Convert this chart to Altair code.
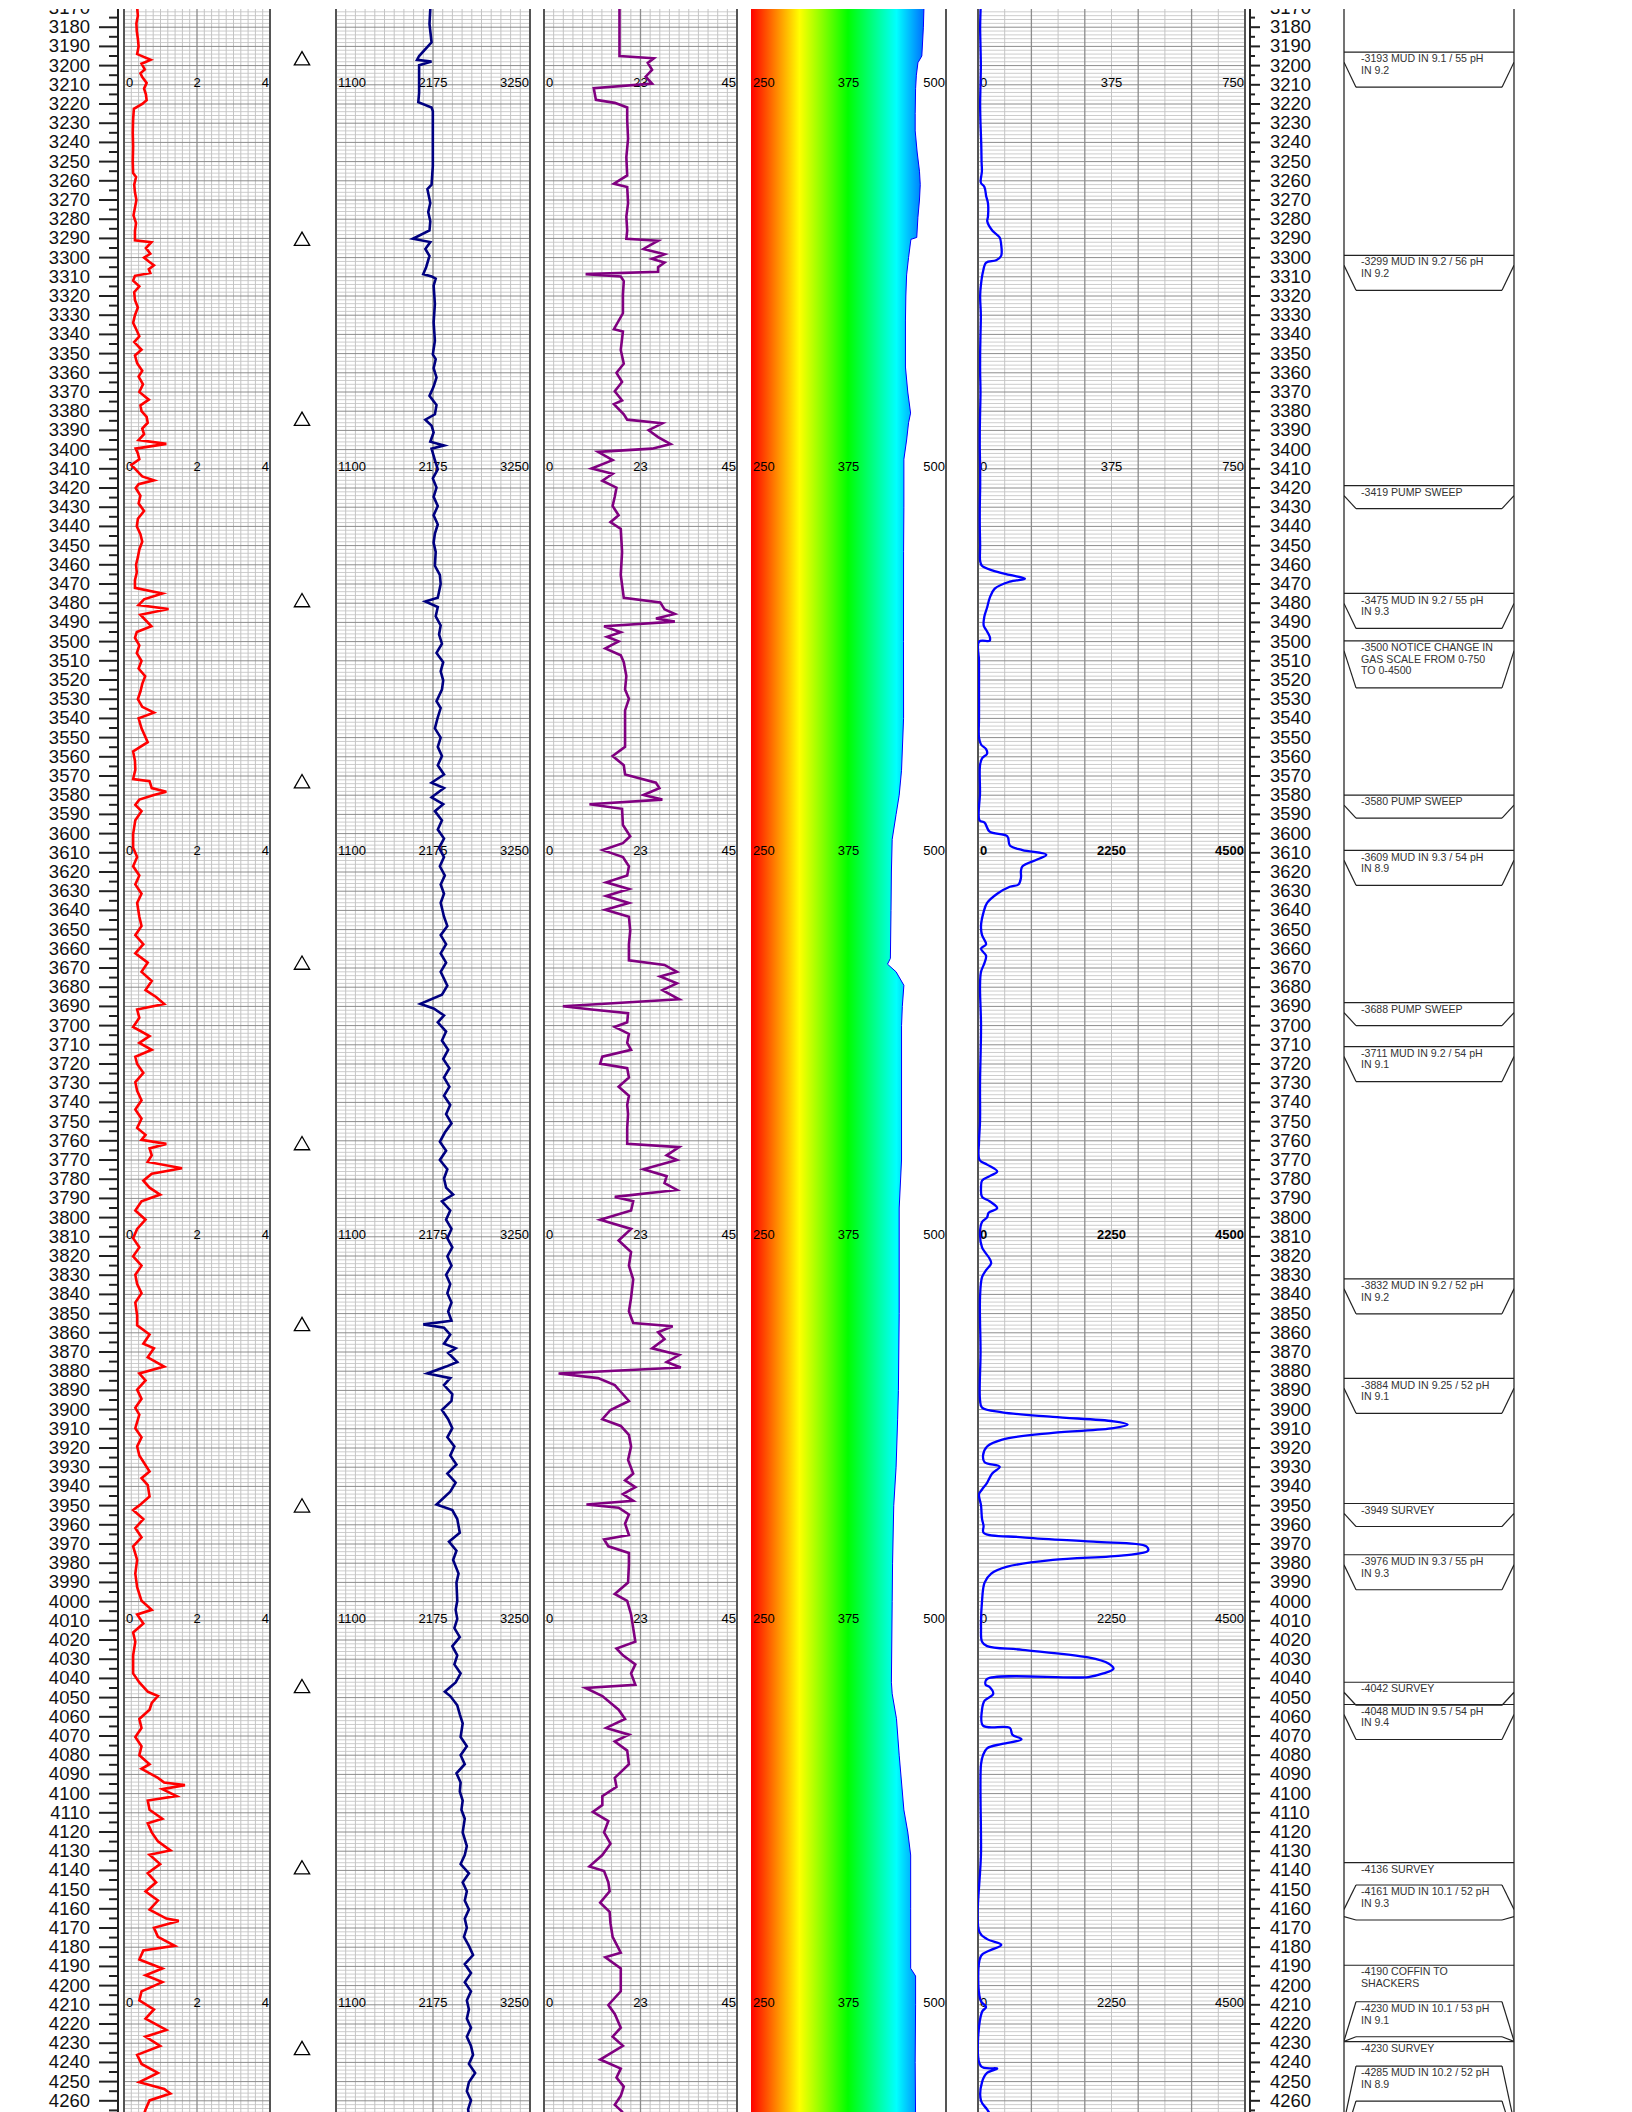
import altair as alt
import pandas as pd

# ------------------------------------------------------------------ data
# track 1 (red, 0-4)
gr_pts = [
(3166.4,0.42),(3170,0.36),(3174,0.38),(3178,0.34),(3182,0.35),(3186,0.38),(3190,0.40),(3194,0.36),(3197,0.73),(3199,0.48),
(3202,0.57),(3204,0.45),(3206,0.50),(3209,0.62),(3212,0.55),(3215,0.60),(3218,0.62),(3220,0.50),(3222.5,0.27),(3228,0.25),
(3235,0.24),(3242,0.25),(3250,0.24),(3256,0.25),(3258,0.33),(3262,0.28),(3266,0.30),(3270,0.34),(3274,0.30),(3278,0.26),
(3282,0.33),(3286,0.30),(3291,0.30),(3292,0.75),(3295,0.60),(3298,0.72),(3300,0.55),(3302,0.68),(3304,0.82),(3306,0.68),
(3308,0.72),(3309.5,0.30),(3312,0.25),(3315,0.42),(3318,0.28),(3322,0.30),(3326,0.38),(3330,0.30),(3334,0.25),(3338,0.35),
(3341,0.42),(3344,0.28),(3348,0.48),(3351,0.30),(3355,0.36),(3359,0.50),(3362,0.40),(3366,0.52),(3370,0.42),(3374,0.68),
(3377,0.45),(3380,0.48),(3383,0.62),(3386,0.65),(3389,0.50),(3392,0.55),(3395,0.40),(3397,1.16),(3399.5,0.32),(3402,0.38),
(3405,0.42),(3408,0.20),(3411,0.35),(3414,0.50),(3416,0.82),(3418,0.40),(3420,0.32),(3424,0.45),(3428,0.40),(3432,0.55),
(3436,0.38),(3440,0.35),(3444,0.45),(3448,0.50),(3452,0.42),(3456,0.38),(3460,0.33),(3464,0.35),(3468,0.30),(3472,0.30),
(3475,1.05),(3478,0.55),(3481,0.40),(3483,1.22),(3486,0.45),(3489,0.60),(3492,0.75),(3495,0.35),(3498,0.30),(3502,0.42),
(3506,0.35),(3510,0.48),(3514,0.40),(3518,0.58),(3522,0.50),(3526,0.45),(3530,0.38),(3534,0.50),(3537,0.82),(3540,0.40),
(3545.2,0.48),(3552.4,0.65),(3557.2,0.25),(3562,0.30),(3566.8,0.31),(3571.6,0.25),(3572.7,0.70),(3576.3,0.76),(3578.2,1.16),(3579.9,0.82),
(3582.3,0.42),(3585,0.31),(3588.3,0.48),(3593,0.31),(3600.2,0.25),(3607.4,0.25),(3612.2,0.36),(3617,0.25),(3621.8,0.42),(3626.5,0.31),
(3631.3,0.48),(3636.1,0.36),(3643.3,0.42),(3648.1,0.48),(3652.9,0.31),(3657.6,0.53),(3662.4,0.31),(3667.2,0.65),(3672,0.48),(3676.8,0.76),
(3681.5,0.59),(3685.1,0.88),(3688.7,1.10),(3691.6,0.36),(3695.9,0.42),(3700.7,0.25),(3705.5,0.70),(3709,0.42),(3712.6,0.76),(3716.2,0.31),
(3720,0.36),(3724.6,0.53),(3729.4,0.31),(3734,0.36),(3738.9,0.48),(3743.7,0.31),(3748.5,0.48),(3753.3,0.36),(3756.9,0.59),(3759.5,0.48),
(3761.6,1.16),(3764,0.70),(3767.6,0.76),(3771,0.65),(3774.3,1.59),(3777.2,0.76),(3780.8,0.53),(3784.4,0.70),(3788,0.99),(3791.5,0.48),
(3796.3,0.31),(3801.1,0.59),(3805.9,0.36),(3810.7,0.25),(3815.5,0.42),(3820.2,0.25),(3825,0.48),(3829.8,0.31),(3834.6,0.36),(3839.4,0.48),
(3844.2,0.31),(3851,0.36),(3856.1,0.36),(3860.9,0.70),(3865.7,0.53),(3868.1,0.82),(3872.8,0.65),(3877.6,1.10),(3881.2,0.42),(3884.8,0.59),
(3889.6,0.36),(3894.4,0.48),(3899.1,0.31),(3902.6,0.42),(3909.7,0.31),(3914.4,0.48),(3919.2,0.36),(3923.9,0.42),(3932.2,0.70),(3935.7,0.48),
(3939.3,0.65),(3945.2,0.70),(3949.9,0.42),(3952.3,0.25),(3957,0.53),(3961.7,0.31),(3966.5,0.48),(3971.2,0.25),(3978.3,0.36),(3985.4,0.31),
(3992.5,0.36),(3999.6,0.48),(4004.3,0.76),(4006.7,0.36),(4011.4,0.53),(4016.1,0.25),(4020.9,0.31),(4028,0.25),(4037.4,0.25),(4042.1,0.42),
(4046.9,0.65),(4049.2,0.93),(4052.8,0.76),(4056.3,0.70),(4061.1,0.42),(4065.8,0.48),(4070.5,0.31),(4075.3,0.48),(4080,0.42),(4084.7,0.70),
(4087.1,0.48),(4091.8,0.93),(4094.2,1.10),(4095.6,1.67),(4097.7,1.05),(4101.3,1.44),(4103.6,0.65),(4108.4,0.70),(4113.1,1.05),(4115.5,0.65),
(4120.2,0.76),(4124.9,0.93),(4129.6,1.27),(4131.9,0.70),(4136.7,0.99),(4141.4,0.65),(4146.2,0.88),(4151,0.59),(4155.7,0.93),(4160.4,0.70),
(4165.1,1.16),(4166.3,1.50),(4169.9,0.82),(4174.6,0.93),(4179.3,1.39),(4181.7,0.53),(4186.4,0.42),(4191.1,1.05),(4194.6,0.59),(4198.2,1.05),
(4203,0.48),(4207.7,0.42),(4212.4,0.82),(4217.2,0.59),(4223.1,1.16),(4226.6,0.59),(4231.4,0.99),(4236.1,0.36),(4240.8,0.48),(4245.5,0.93),
(4250.3,0.42),(4253.8,1.10),(4256.2,1.27),(4259.8,0.70),(4264.5,0.59),(4270,0.50)]

# track 2 (navy, 1100-3250)
dens_pts = [
(3166.4,2150),(3178.3,2136),(3187.9,2159),(3195.0,2021),(3197.0,1998),(3197.9,2159),(3199.8,2021),(3214.2,2021),(3219.0,2012),(3221.8,2159),
(3223.7,2173),(3238.1,2173),(3252.4,2173),(3262.0,2159),(3264.4,2113),(3271.6,2145),(3276.3,2122),(3281.1,2145),(3285.9,2136),(3290.2,1952),
(3291.9,2145),(3295.5,2090),(3299.1,2136),(3305.0,2099),(3308.6,2067),(3309.8,2159),(3311.0,2205),(3314.6,2182),(3324.2,2196),(3333.7,2182),
(3343.3,2196),(3350.5,2173),(3352.9,2205),(3357.6,2182),(3362.4,2214),(3367.2,2182),(3372.0,2136),(3376.8,2214),(3381.6,2196),(3384.4,2090),
(3387.5,2159),(3391.1,2182),(3395.9,2145),(3397.8,2297),(3399.5,2159),(3405.5,2196),(3410.3,2228),(3415.0,2173),(3419.8,2214),(3424.6,2182),
(3429.4,2228),(3434.2,2182),(3439.0,2228),(3443.7,2196),(3448.5,2182),(3453.3,2205),(3460.5,2196),(3465.3,2251),(3470.0,2260),(3477.2,2228),
(3479.1,2090),(3482.0,2228),(3486.8,2205),(3491.6,2260),(3496.3,2242),(3501.1,2274),(3505.9,2214),(3510.7,2288),(3515.5,2260),(3520.2,2288),
(3525.0,2274),(3531.0,2214),(3534.6,2260),(3539.4,2228),(3545.2,2196),(3550.0,2260),(3554.8,2228),(3559.6,2274),(3564.4,2228),(3569.2,2297),
(3573.5,2159),(3576.3,2297),(3581.1,2159),(3584.7,2288),(3588.3,2196),(3593.1,2274),(3597.9,2228),(3602.6,2297),(3607.4,2242),(3612.2,2297),
(3617.0,2251),(3621.8,2306),(3626.5,2260),(3631.3,2297),(3636.1,2260),(3643.3,2297),(3648.1,2334),(3652.9,2260),(3657.6,2320),(3662.4,2260),
(3667.2,2320),(3672.0,2260),(3679.2,2334),(3683.9,2274),(3688.7,2035),(3691.1,2182),(3694.7,2297),(3698.3,2228),(3703.1,2320),(3707.8,2274),
(3712.6,2343),(3717.4,2288),(3722.2,2357),(3727.0,2297),(3731.8,2357),(3736.5,2297),(3741.3,2366),(3746.1,2320),(3750.9,2380),(3755.7,2306),
(3760.5,2251),(3765.2,2320),(3770.0,2251),(3774.8,2334),(3779.6,2297),(3784.4,2320),(3788.0,2398),(3791.5,2274),(3796.3,2366),(3801.1,2320),
(3805.9,2380),(3810.7,2334),(3815.5,2389),(3820.2,2334),(3825.0,2380),(3829.8,2320),(3834.6,2366),(3839.4,2334),(3844.2,2380),(3848.9,2343),
(3853.7,2380),(3855.6,2067),(3857.3,2297),(3860.9,2366),(3865.7,2297),(3868.1,2426),(3870.5,2343),(3875.2,2444),(3877.6,2320),(3881.2,2113),
(3883.6,2366),(3887.2,2297),(3892.0,2389),(3895.5,2380),(3900.2,2274),(3905.0,2343),(3909.7,2389),(3914.4,2334),(3919.2,2412),(3923.9,2366),
(3928.6,2435),(3933.3,2334),(3938.1,2426),(3942.8,2366),(3949.4,2214),(3952.3,2389),(3957.0,2444),(3964.1,2472),(3968.8,2352),(3973.5,2435),
(3978.3,2398),(3985.4,2458),(3990.1,2435),(3999.6,2444),(4004.3,2426),(4009.0,2444),(4013.8,2412),(4018.5,2472),(4023.2,2389),(4028.0,2444),
(4032.7,2412),(4037.4,2481),(4042.1,2426),(4046.9,2306),(4049.2,2366),(4054.0,2444),(4058.7,2472),(4063.4,2504),(4070.5,2481),(4075.3,2550),
(4080.0,2481),(4084.7,2527),(4089.4,2435),(4094.2,2481),(4098.9,2472),(4103.6,2504),(4108.4,2490),(4113.1,2527),(4120.2,2504),(4127.3,2550),
(4132.0,2527),(4136.7,2481),(4141.5,2573),(4146.2,2504),(4150.9,2550),(4155.7,2527),(4160.4,2573),(4165.1,2527),(4169.9,2550),(4174.6,2518),
(4179.3,2573),(4184.1,2619),(4188.8,2527),(4193.5,2596),(4198.2,2527),(4203.0,2596),(4207.7,2550),(4212.4,2573),(4217.2,2550),(4221.9,2596),
(4226.6,2550),(4231.4,2596),(4236.1,2619),(4240.8,2573),(4245.5,2642),(4250.3,2573),(4255.0,2550),(4259.7,2596),(4264.5,2564),(4270,2580)]

# track 3 (purple, 0-45)
por_pts = [
(3166.4,17.6),(3180.7,17.6),(3195.0,17.6),(3196.2,25.6),(3198.6,24.2),(3202.2,25.2),(3205.8,23.7),(3209.4,25.2),(3211.8,11.6),(3214.2,11.8),
(3217.8,12.1),(3219.4,16.5),(3221.8,19.4),(3228.5,19.4),(3238.1,19.6),(3247.7,19.2),(3257.2,19.4),(3261.5,16.3),(3263.2,19.4),(3271.6,19.6),
(3278.7,19.2),(3285.9,19.4),(3290.2,19.2),(3291.2,26.6),(3295.5,23.2),(3298.3,28.1),(3300.7,25.2),(3302.6,28.1),(3305.0,26.6),(3307.4,26.6),
(3308.6,9.7),(3309.8,17.9),(3312.2,18.6),(3319.4,18.4),(3329.0,18.4),(3337.3,16.3),(3338.5,18.4),(3348.1,17.9),(3355.3,18.6),(3360.0,16.9),
(3364.8,18.2),(3369.6,16.5),(3374.4,18.2),(3376.3,16.3),(3381.6,18.6),(3384.4,19.4),(3386.3,27.6),(3389.9,24.4),(3393.5,26.6),(3397.1,29.5),
(3399.5,25.2),(3401.2,12.6),(3405.5,16.0),(3409.8,11.1),(3412.6,16.0),(3416.2,13.6),(3419.8,16.9),(3424.6,16.5),(3429.4,16.0),(3434.2,17.4),
(3437.8,15.5),(3441.3,17.9),(3453.3,18.2),(3465.3,17.9),(3477.2,18.6),(3479.6,27.1),(3483.2,28.1),(3485.6,30.5),(3488.0,26.1),(3489.6,30.5),
(3492.0,14.0),(3495.1,17.9),(3497.5,14.7),(3499.9,17.4),(3503.5,14.3),(3507.1,17.9),(3510.7,18.6),(3517.9,19.2),(3525.0,18.9),(3529.8,19.8),
(3535.8,18.9),(3542.9,18.9),(3554.8,18.9),(3559.6,16.0),(3564.4,18.6),(3569.2,18.9),(3573.5,26.1),(3576.3,26.9),(3579.9,23.2),(3582.3,27.6),
(3584.7,10.6),(3587.1,18.2),(3595.5,18.4),(3601.4,20.1),(3605.0,18.4),(3608.6,13.7),(3612.2,18.4),(3617.0,19.8),(3621.8,19.4),(3625.4,14.5),
(3628.9,19.8),(3632.5,14.5),(3636.1,19.8),(3639.7,14.3),(3643.3,19.8),(3650.5,20.1),(3657.6,19.8),(3666.0,19.8),(3668.4,28.1),(3672.0,31.0),
(3674.4,27.1),(3678.0,31.0),(3681.5,27.6),(3686.3,31.5),(3689.9,4.4),(3691.6,11.1),(3693.5,19.6),(3698.3,19.4),(3700.7,16.5),(3704.3,19.8),
(3709.0,19.4),(3712.6,20.3),(3716.2,13.6),(3719.8,13.1),(3722.2,19.4),(3727.0,19.8),(3731.8,17.4),(3736.5,19.8),(3741.3,19.4),(3746.1,19.6),
(3753.3,19.4),(3761.6,19.4),(3763.3,31.5),(3767.6,28.6),(3770.0,31.0),(3774.8,23.2),(3778.4,28.6),(3782.0,28.1),(3785.6,31.0),(3789.2,16.5),
(3791.5,20.8),(3796.3,20.3),(3801.1,13.1),(3805.9,20.3),(3811.9,17.4),(3817.9,20.3),(3825.0,19.8),(3832.2,20.8),(3841.8,20.3),(3848.9,19.8),
(3854.9,20.8),(3856.6,30.0),(3859.7,26.6),(3863.3,28.1),(3868.1,25.2),(3871.6,31.5),(3875.2,28.6),(3878.1,31.9),(3881.2,3.4),(3883.6,12.6),
(3887.2,16.5),(3892.0,18.4),(3895.5,19.8),(3900.2,15.5),(3905.0,13.6),(3908.5,17.9),(3913.2,19.8),(3919.2,20.3),(3926.2,19.6),(3933.3,20.8),
(3936.9,18.9),(3940.4,21.3),(3944.0,18.4),(3947.5,20.8),(3949.4,9.9),(3951.1,17.4),(3954.6,19.8),(3959.4,18.9),(3965.3,19.8),(3967.6,14.0),
(3971.2,15.0),(3974.7,19.8),(3980.6,19.8),(3990.1,19.6),(3996.0,16.5),(3999.6,19.4),(4006.7,20.3),(4013.8,20.8),(4020.9,21.3),(4024.4,16.9),
(4028.0,18.4),(4032.7,21.3),(4037.4,20.3),(4043.3,21.3),(4045.0,9.7),(4049.2,13.6),(4056.3,17.4),(4061.1,18.9),(4065.8,14.5),(4069.3,19.8),
(4072.9,16.5),(4077.6,19.4),(4084.7,19.8),(4091.8,16.5),(4096.5,16.9),(4101.3,13.6),(4106.0,13.6),(4109.5,11.4),(4114.3,15.0),(4120.2,14.0),
(4126.1,15.5),(4132.0,13.6),(4137.9,10.6),(4140.3,14.0),(4146.2,15.0),(4150.9,15.3),(4156.8,13.1),(4161.6,15.3),(4167.5,15.5),(4174.6,16.0),
(4182.9,17.9),(4185.2,14.3),(4191.1,17.9),(4198.2,17.9),(4203.0,17.9),(4210.1,15.0),(4214.8,16.5),(4221.9,17.9),(4226.6,16.0),(4231.4,18.4),
(4238.5,13.1),(4243.2,17.9),(4247.9,16.9),(4252.6,18.6),(4257.4,17.9),(4262.1,16.5),(4265.6,18.2),(4270,17.5)]

# track 4 (colour fill, 250-500): right edge of the fill
rop_pts = [
(3166,472),(3180,471),(3195,469),(3198.5,464),(3205,462),(3212,461),(3225,460.5),(3234,460.5),(3245,463),(3255,466),
(3262,467),(3270,466),(3279,464),(3289.5,462.5),(3290.5,455),(3300,452),(3309,449.5),(3320,448.5),(3333,448),(3357,448),
(3370,451),(3381,454.6),(3386,452),(3395,449.5),(3405,446),(3430,446),(3453,445.6),(3500,445.5),(3540,445.6),(3567,443),
(3580,440),(3590,436),(3603,431),(3620,430),(3640,429.5),(3665,428.7),(3668,425),(3672,436),(3679,446),(3690,444),
(3700,443),(3770,443),(3795,440),(3850,440),(3890,439),(3905,438),(3930,436),(3950,433),(3980,431.5),(4000,431),
(4042,430),(4048,431),(4061,436.5),(4080,440),(4108.5,446),(4120,451),(4132,454.7),(4160,454.7),(4191,454.7),(4195,461),
(4210,461),(4240,460.5),(4270,461)]

# track 5 (gas): 0-750 scale above the break, 0-4500 below it
gas_scale_break = 3500
gas_hi_max = 750
gas_lo_max = 4500
gas_hi_pts = [
(3166,8),(3172,7),(3180,6),(3190,7),(3200,8),(3210,7),(3220,6),(3230,7),(3240,9),(3250,10),(3255,11),(3261,8),
(3263.2,18),(3268,23),(3271.6,28),(3278.7,28),(3281.1,26),(3285.9,40),(3289.5,61),(3293.1,65),(3299.1,65),(3301.4,51),
(3302.6,23),(3307.4,14),(3314.6,8),(3320,6),(3330,8),(3340,7),(3350,6),(3360,6),(3370,7),(3380,6),(3390,5),(3400,5),
(3410,6),(3420,6),(3430,5),(3440,5),(3450,6),(3458,6),(3460.5,11),(3462.9,40),(3465.3,89),(3467.2,132),(3468.8,89),
(3472.4,47),(3477.2,33),(3482,26),(3486.8,18),(3491.6,16),(3494,23),(3497.5,33),(3499.5,33)]
gas_lo_pts = [
(3500,17),(3510,17),(3520,17),(3530,17),(3540,17),(3550,17),(3553.6,51),(3556,136),(3558.4,153),(3560.8,68),(3564.4,34),
(3578.7,34),(3593.1,26),(3594.3,111),(3599,196),(3601.4,494),(3606.2,537),(3608.6,750),(3611,1151),(3613.4,1006),(3617,750),
(3619.5,724),(3623,724),(3626.5,682),(3627.7,537),(3631.3,324),(3636.1,153),(3640.9,94),(3648,51),(3652.9,68),(3657.6,136),
(3660,51),(3663.6,136),(3667.2,111),(3672,51),(3679.2,34),(3700,51),(3730,34),(3750,34),(3760.5,17),(3770,26),(3772.4,153),
(3776,324),(3778.4,196),(3780.8,68),(3784.4,51),(3789.2,68),(3791.5,196),(3795.1,324),(3797.5,179),(3799.9,153),(3802.3,68),
(3808.3,34),(3815.5,68),(3821.4,196),(3823.8,222),(3827.4,136),(3831,68),(3841.8,34),(3870,43),(3895,34),(3899,68),
(3901.4,409),(3903.8,1261),(3906.1,2284),(3907.8,2523),(3909.7,2284),(3912.1,1261),(3915.6,409),(3919.2,153),(3923.9,85),
(3927.4,111),(3929.8,366),(3933.3,239),(3938.1,153),(3941.6,68),(3944,17),(3949.9,51),(3957,68),(3960.5,94),(3964.1,94),
(3966.5,750),(3968.8,1943),(3971.2,2838),(3973.6,2864),(3975.9,2455),(3978.3,1261),(3981.8,494),(3985.4,222),(3990.1,111),
(3999.6,68),(4013.8,51),(4020.9,68),(4023.2,153),(4025.1,750),(4029.1,1858),(4032.2,2199),(4035,2284),(4037.4,2114),
(4039.3,1858),(4040.3,153),(4043.3,128),(4044.5,196),(4048.1,256),(4051.6,111),(4056.3,68),(4064.6,85),(4065.8,537),
(4069.3,580),(4071.7,733),(4074.1,409),(4076.4,153),(4080,85),(4084.7,51),(4130,51),(4172.2,26),(4175.8,153),(4178.8,392),
(4181.7,196),(4184.5,51),(4207.7,43),(4211.2,136),(4213.6,68),(4242,51),(4243.2,324),(4245.5,153),(4250.3,68),(4260,51),
(4264.5,153),(4270,260)]

survey_depths = [3196.2, 3290.2, 3383.9, 3478.4, 3572.7, 3667.2, 3761.2, 3855.4, 3949.9, 4044.0, 4138.4, 4232.5]

depth_labels = list(range(3170, 4261, 10))
track1_labels = ["0", "2", "4"]
track2_labels = ["1100", "2175", "3250"]
track3_labels = ["0", "23", "45"]
track4_labels = ["250", "375", "500"]
label_rows = [3209, 3409, 3609, 3809, 4009, 4209]
gas_left = ["0", "0", "0", "0", "0", "0"]
gas_mid = ["375", "375", "2250", "2250", "2250", "2250"]
gas_right = ["750", "750", "4500", "4500", "4500", "4500"]
gas_bold = [False, False, True, True, False, False]

comment_lines = [
    ["-3193 MUD IN 9.1 / 55 pH", "IN 9.2"],
    ["-3299 MUD IN 9.2 / 56 pH", "IN 9.2"],
    ["-3419 PUMP SWEEP"],
    ["-3475 MUD IN 9.2 / 55 pH", "IN 9.3"],
    ["-3500 NOTICE CHANGE IN", "GAS SCALE FROM 0-750", "TO 0-4500"],
    ["-3580 PUMP SWEEP"],
    ["-3609 MUD IN 9.3 / 54 pH", "IN 8.9"],
    ["-3688 PUMP SWEEP"],
    ["-3711 MUD IN 9.2 / 54 pH", "IN 9.1"],
    ["-3832 MUD IN 9.2 / 52 pH", "IN 9.2"],
    ["-3884 MUD IN 9.25 / 52 pH", "IN 9.1"],
    ["-3949 SURVEY"],
    ["-3976 MUD IN 9.3 / 55 pH", "IN 9.3"],
    ["-4042 SURVEY"],
    ["-4048 MUD IN 9.5 / 54 pH", "IN 9.4"],
    ["-4136 SURVEY"],
    ["-4161 MUD IN 10.1 / 52 pH", "IN 9.3"],
    ["-4190 COFFIN TO", "SHACKERS"],
    ["-4230 MUD IN 10.1 / 53 pH", "IN 9.1"],
    ["-4230 SURVEY"],
    ["-4285 MUD IN 10.2 / 52 pH", "IN 8.9"],
]
comment_top = [3193.0, 3298.8, 3418.8, 3474.9, 3499.6, 3580.0, 3608.7, 3688.0, 3710.9, 3831.9, 3883.7,
               3948.9, 3975.6, 4042.0, 4053.6, 4136.0, 4147.6, 4189.4, 4208.4, 4229.2, 4241.9]
comment_style = ["std"] * 15 + ["open", "up", "open", "up", "open", "up"]
comment_reach = [0] * 16 + [4160.3, 0, 4228.8, 0, 4271.0]
comment_foot = [0] * 16 + [-1.8, 0, 2.4, 0, 20.0]

# ------------------------------------------------------------------ layout
PXFT = 1.92
H = 2110
D0 = 3170.52
D1 = D0 + H / PXFT
FONT = "Liberation Sans"
YS = alt.Scale(domain=[D0, D1], reverse=True, nice=False, zero=False)


def Y(field="depth"):
    return alt.Y(f"{field}:Q", scale=YS, axis=None)


minor_d = [d for d in range(3166, 4272, 2) if d % 10 != 0 and D0 <= d <= D1]
major_d = [d for d in range(3170, 4272, 10) if D0 <= d <= D1]


def pts_df(pts):
    return pd.DataFrame({"depth": [p[0] for p in pts], "val": [p[1] for p in pts]})


def grid_layers(xs, x0, x1, ndiv, dark_idx):
    L = []
    X = lambda f: alt.X(f"{f}:Q", scale=xs, axis=None)
    h1 = pd.DataFrame({"depth": minor_d, "a": x0, "b": x1})
    h2 = pd.DataFrame({"depth": major_d, "a": x0, "b": x1})
    L.append(alt.Chart(h1).mark_rule(color="#cdcdcd", strokeWidth=1).encode(y=Y(), x=X("a"), x2="b:Q"))
    light = [x0 + (x1 - x0) * i / ndiv for i in range(1, ndiv) if i not in dark_idx]
    dark = [x0 + (x1 - x0) * i / ndiv for i in dark_idx]
    L.append(alt.Chart(pd.DataFrame({"gx": light})).mark_rule(color="#c4c4c4", strokeWidth=1).encode(x=X("gx")))
    L.append(alt.Chart(h2).mark_rule(color="#8c8c8c", strokeWidth=1).encode(y=Y(), x=X("a"), x2="b:Q"))
    L.append(alt.Chart(pd.DataFrame({"gx": dark})).mark_rule(color="#8c8c8c", strokeWidth=1.3).encode(x=X("gx")))
    return L


def border_layer(xs, xsv, color="#555555", w=2):
    return alt.Chart(pd.DataFrame({"gx": xsv})).mark_rule(color=color, strokeWidth=w).encode(
        x=alt.X("gx:Q", scale=xs, axis=None))


def label_layers(xs, x0, x1, rows, left, mid, right, weight="normal"):
    df = pd.DataFrame({"depth": rows, "l": left, "m": mid, "r": right,
                       "xa": x0, "xm": (x0 + x1) / 2, "xb": x1})
    base = alt.Chart(df)
    kw = dict(baseline="middle", fontSize=13, font=FONT, color="#000000", fontWeight=weight)
    return [
        base.mark_text(align="left", dx=2, **kw).encode(x=alt.X("xa:Q", scale=xs, axis=None), y=Y(), text="l:N"),
        base.mark_text(align="center", **kw).encode(x=alt.X("xm:Q", scale=xs, axis=None), y=Y(), text="m:N"),
        base.mark_text(align="right", dx=-1, **kw).encode(x=alt.X("xb:Q", scale=xs, axis=None), y=Y(), text="r:N"),
    ]


def curve_layer(df, xs, color, w=2.6, interp="linear"):
    return alt.Chart(df).mark_line(color=color, strokeWidth=w, clip=True, interpolate=interp).encode(
        x=alt.X("val:Q", scale=xs, axis=None), y=Y(), order=alt.Order("depth:Q"))


def log_track(xdom, plot_w, panel_w, labels, pts, color, ndiv=20, dark_idx=(10,)):
    xs = alt.Scale(domain=list(xdom), range=[0, plot_w], nice=False, zero=False)
    x0, x1 = xdom
    L = grid_layers(xs, x0, x1, ndiv, list(dark_idx))
    L.append(border_layer(xs, [x0, x1]))
    L += label_layers(xs, x0, x1, label_rows, [labels[0]] * 6, [labels[1]] * 6, [labels[2]] * 6)
    L.append(curve_layer(pts_df(pts), xs, color))
    return alt.layer(*L).properties(width=panel_w, height=H)


# --- depth scales
ticks10 = pd.DataFrame({"depth": list(range(3170, 4271, 10))})
labs = pd.DataFrame({"depth": depth_labels, "lab": [str(d) for d in depth_labels]})
ticks5 = pd.DataFrame({"depth": [d for d in range(3175, 4271, 10)]})
axis_line = pd.DataFrame({"k": [0]})
tick_kw = dict(color="#222222", strokeWidth=2, clip=True)

depth_left = alt.layer(
    alt.Chart(axis_line).mark_rule(color="#222222", strokeWidth=2).encode(x=alt.value(110)),
    alt.Chart(ticks10).mark_rule(**tick_kw).encode(y=Y(), x=alt.value(91), x2=alt.value(110)),
    alt.Chart(ticks5).mark_rule(**tick_kw).encode(y=Y(), x=alt.value(101), x2=alt.value(110)),
    alt.Chart(labs).mark_text(align="right", baseline="middle", fontSize=18.5, font=FONT,
                              color="#111111", clip=True).encode(y=Y(), x=alt.value(82), text="lab:N"),
).properties(width=116, height=H)

depth_right = alt.layer(
    alt.Chart(axis_line).mark_rule(color="#222222", strokeWidth=2).encode(x=alt.value(5)),
    alt.Chart(ticks10).mark_rule(**tick_kw).encode(y=Y(), x=alt.value(5), x2=alt.value(15)),
    alt.Chart(ticks5).mark_rule(**tick_kw).encode(y=Y(), x=alt.value(5), x2=alt.value(10)),
    alt.Chart(labs).mark_text(align="left", baseline="middle", fontSize=18.5, font=FONT,
                              color="#111111", clip=True).encode(y=Y(), x=alt.value(25), text="lab:N"),
).properties(width=99, height=H)

# --- survey triangles
tri = alt.Chart(pd.DataFrame({"depth": survey_depths})).mark_point(
    shape="triangle-up", size=235, filled=False, color="#000000", strokeWidth=1.3, opacity=1).encode(
    y=Y(), x=alt.value(32)).properties(width=66, height=H)

track1 = log_track((0, 4), 146, 146, track1_labels, gr_pts, "#ff0000")
track2 = log_track((1100, 3250), 194, 208, track2_labels, dens_pts, "#000080")
track3 = log_track((0, 45), 193, 207, track3_labels, por_pts, "#800080")


# --- colour track
def hue_hex(h):
    h = h % 360
    s = h / 60.0
    i = int(s)
    f = s - i
    rgb = [(1, f, 0), (1 - f, 1, 0), (0, 1, f), (0, 1 - f, 1), (f, 0, 1), (1, 0, 1 - f)][i]
    return "#%02x%02x%02x" % tuple(int(round(c * 255)) for c in rgb)


vmax = max(v for _, v in rop_pts)
end_hue = 0.965 * (vmax - 250)
stops = [alt.GradientStop(offset=h / end_hue, color=hue_hex(h)) for h in range(0, 360, 30) if h < end_hue]
stops.append(alt.GradientStop(offset=1, color=hue_hex(end_hue)))
grad = alt.LinearGradient(gradient="linear", stops=stops, x1=0, x2=1, y1=0, y2=0)

xs4 = alt.Scale(domain=[250, 500], range=[0, 195], nice=False, zero=False)
rop_df = pts_df(rop_pts)
rop_df["base"] = 250
track4 = alt.layer(
    alt.Chart(rop_df).mark_area(orient="horizontal", color=grad, clip=True).encode(
        x=alt.X("val:Q", scale=xs4, axis=None), x2="base:Q", y=Y()),
    alt.Chart(rop_df).mark_line(color="#0000ff", strokeWidth=1, clip=True).encode(
        x=alt.X("val:Q", scale=xs4, axis=None), y=Y(), order=alt.Order("depth:Q")),
    border_layer(xs4, [500]),
    *label_layers(xs4, 250, 500, label_rows, [track4_labels[0]] * 6, [track4_labels[1]] * 6, [track4_labels[2]] * 6),
).properties(width=227, height=H)

# --- gas track (plotted as fraction of track width, scale changes at the break)
gas_rows = [(d, v / gas_hi_max) for d, v in gas_hi_pts if d < gas_scale_break] + \
           [(d, v / gas_lo_max) for d, v in gas_lo_pts if d >= gas_scale_break]
gas_df = pts_df(gas_rows)
xs5 = alt.Scale(domain=[0, 1], range=[0, 267], nice=False, zero=False)
g_norm = [i for i, b in enumerate(gas_bold) if not b]
g_bold = [i for i, b in enumerate(gas_bold) if b]
pick = lambda arr, idx: [arr[i] for i in idx]
track5 = alt.layer(
    *grid_layers(xs5, 0, 1, 10, [2, 4, 6, 8]),
    border_layer(xs5, [0, 1]),
    *label_layers(xs5, 0, 1, pick(label_rows, g_norm), pick(gas_left, g_norm), pick(gas_mid, g_norm), pick(gas_right, g_norm)),
    *label_layers(xs5, 0, 1, pick(label_rows, g_bold), pick(gas_left, g_bold), pick(gas_mid, g_bold), pick(gas_right, g_bold), weight="bold"),
    curve_layer(gas_df, xs5, "#0000ff", w=2.3, interp="catmull-rom"),
).properties(width=267, height=H)

# --- comments track
IN = 12 / 170.0
segs = []
texts = []
for lines, top, style, reach, foot in zip(comment_lines, comment_top, comment_style, comment_reach, comment_foot):
    n = len(lines)
    h = (11 + 12 * n) / PXFT
    bot = top + h
    if style == "up":
        segs += [(IN, top, 1 - IN, top), (IN, top, 0, reach), (1 - IN, top, 1, reach),
                 (IN, bot, 1 - IN, bot), (IN, bot, 0, bot + foot), (1 - IN, bot, 1, bot + foot)]
    else:
        segs.append((0, top, 1, top))
        if style == "std":
            k = top + 10 / PXFT
            segs += [(0, k, IN, bot), (1, k, 1 - IN, bot), (IN, bot, 1 - IN, bot)]
    for i, s in enumerate(lines):
        texts.append((s, top + (7.2 + 11.7 * i) / PXFT))

seg_df = pd.DataFrame(segs, columns=["x", "y", "x2", "y2"])
txt_df = pd.DataFrame(texts, columns=["txt", "depth"])
txt_df["x"] = 17 / 170.0
xs6 = alt.Scale(domain=[0, 1], range=[0, 170], nice=False, zero=False)
comments = alt.layer(
    border_layer(xs6, [0, 1], color="#444444", w=1.5),
    alt.Chart(seg_df).mark_rule(color="#222222", strokeWidth=1.2, clip=True).encode(
        x=alt.X("x:Q", scale=xs6, axis=None), x2="x2:Q", y=Y("y"), y2="y2:Q"),
    alt.Chart(txt_df).mark_text(align="left", baseline="middle", fontSize=10.6, font=FONT,
                                color="#333333", clip=True).encode(
        x=alt.X("x:Q", scale=xs6, axis=None), y=Y(), text="txt:N"),
).properties(width=170, height=H)

chart = alt.HConcatChart(
    hconcat=[depth_left, track1, tri, track2, track3, track4, track5, depth_right, comments],
    spacing=0, bounds="flush", padding=0, background="white",
).configure_view(stroke=None)

chart.save("out.html", embed_options={"renderer": "svg", "actions": False})
